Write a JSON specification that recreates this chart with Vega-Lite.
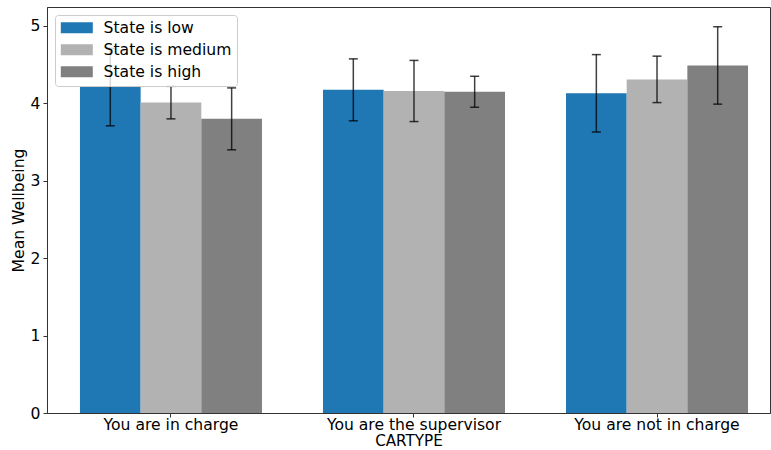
{
  "$schema": "https://vega.github.io/schema/vega-lite/v6.json",
  "autosize": {"type": "none"},
  "width": 723,
  "height": 406,
  "padding": {"left": 47, "top": 7, "right": 1, "bottom": 37},
  "background": "white",
  "config": {
    "font": "DejaVu Sans",
    "view": {"stroke": "#333333", "strokeWidth": 1},
    "axis": {
      "labelFont": "DejaVu Sans",
      "titleFont": "DejaVu Sans",
      "labelFontSize": 15.6,
      "titleFontSize": 15.6,
      "titleFontWeight": "normal",
      "labelColor": "#000000",
      "titleColor": "#000000",
      "domainColor": "#333333",
      "tickColor": "#333333",
      "tickSize": 4,
      "grid": false
    }
  },
  "data": {
    "values": [
      {"cartype": "You are in charge", "state": "State is low", "mean": 4.21, "err": 0.5},
      {"cartype": "You are in charge", "state": "State is medium", "mean": 4.01, "err": 0.21},
      {"cartype": "You are in charge", "state": "State is high", "mean": 3.8, "err": 0.4},
      {"cartype": "You are the supervisor", "state": "State is low", "mean": 4.175, "err": 0.4},
      {"cartype": "You are the supervisor", "state": "State is medium", "mean": 4.16, "err": 0.395},
      {"cartype": "You are the supervisor", "state": "State is high", "mean": 4.15, "err": 0.2},
      {"cartype": "You are not in charge", "state": "State is low", "mean": 4.13, "err": 0.5},
      {"cartype": "You are not in charge", "state": "State is medium", "mean": 4.31, "err": 0.3},
      {"cartype": "You are not in charge", "state": "State is high", "mean": 4.49, "err": 0.5}
    ]
  },
  "transform": [
    {"calculate": "datum.mean - datum.err", "as": "lo"},
    {"calculate": "datum.mean + datum.err", "as": "hi"}
  ],
  "encoding": {
    "x": {
      "field": "cartype",
      "type": "nominal",
      "sort": ["You are in charge", "You are the supervisor", "You are not in charge"],
      "scale": {"paddingInner": 0.251, "paddingOuter": 0.113, "align": 0.6},
      "axis": {"title": "CARTYPE", "titleFontSize": 15.2, "labelAngle": 0, "titlePadding": 1, "labelPadding": 0}
    },
    "xOffset": {
      "field": "state",
      "type": "nominal",
      "sort": ["State is low", "State is medium", "State is high"],
      "scale": {"paddingInner": 0, "paddingOuter": 0}
    }
  },
  "layer": [
    {
      "mark": {"type": "bar"},
      "encoding": {
        "y": {
          "field": "mean",
          "type": "quantitative",
          "scale": {"domain": [0, 5.245], "nice": false},
          "axis": {"title": "Mean Wellbeing", "values": [0, 1, 2, 3, 4, 5], "format": "d", "titlePadding": 4, "labelPadding": 3}
        },
        "color": {
          "field": "state",
          "type": "nominal",
          "sort": ["State is low", "State is medium", "State is high"],
          "scale": {
            "domain": ["State is low", "State is medium", "State is high"],
            "range": ["#1f77b4", "#b2b2b2", "#808080"]
          },
          "legend": {
            "title": null,
            "orient": "none",
            "legendX": 8,
            "legendY": 8,
            "padding": 5,
            "fillColor": "rgba(255,255,255,0.8)",
            "strokeColor": "#cccccc",
            "cornerRadius": 3,
            "symbolType": "M-2.909,-1H2.909V1H-2.909Z",
            "symbolSize": 121,
            "symbolOffset": 9,
            "symbolStrokeWidth": 0,
            "symbolOpacity": 1,
            "labelFont": "DejaVu Sans",
            "labelFontSize": 15.6,
            "labelColor": "#000000",
            "labelOffset": 19,
            "rowPadding": 5
          }
        }
      }
    },
    {
      "mark": {"type": "rule", "color": "#000000", "opacity": 0.75, "strokeWidth": 1.5},
      "encoding": {
        "y": {"field": "lo", "type": "quantitative"},
        "y2": {"field": "hi"}
      }
    },
    {
      "mark": {"type": "tick", "color": "#000000", "opacity": 0.75, "size": 9, "thickness": 1.5, "orient": "horizontal"},
      "encoding": {"y": {"field": "lo", "type": "quantitative"}}
    },
    {
      "mark": {"type": "tick", "color": "#000000", "opacity": 0.75, "size": 9, "thickness": 1.5, "orient": "horizontal"},
      "encoding": {"y": {"field": "hi", "type": "quantitative"}}
    }
  ]
}
